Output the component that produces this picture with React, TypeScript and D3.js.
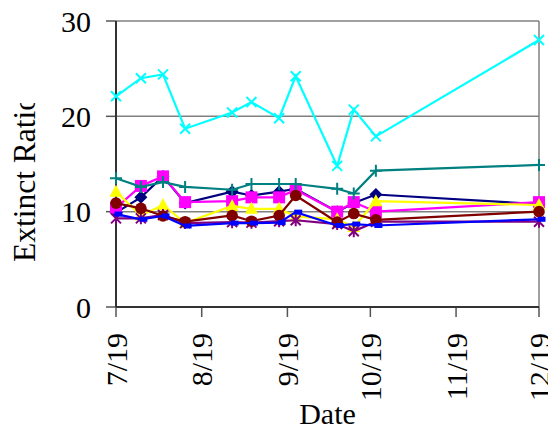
import React from "react";
import * as d3 from "d3";

const dates = ["2002-07-19","2002-07-28","2002-08-05","2002-08-13","2002-08-30","2002-09-06","2002-09-16","2002-09-22","2002-10-07","2002-10-13","2002-10-21","2002-12-19"];
const navyVals = [9.9, 11.5, 13.7, 10.9, 12.1, 11.7, 12.1, 12.4, 10.0, 10.9, 11.8, 10.8];
const magentaVals = [10.4, 12.7, 13.7, 11.0, 11.1, 11.5, 11.5, 12.3, 10.0, 11.0, 10.0, 11.0];
const yellowVals = [12.1, 9.6, 10.7, 8.8, 10.6, 10.3, 10.3, 9.5, 9.2, 8.4, 11.1, 10.7];
const cyanVals = [22.1, 24.0, 24.4, 18.7, 20.4, 21.5, 19.8, 24.2, 14.8, 20.7, 17.9, 28.0];
const purpleVals = [9.3, 9.3, 9.65, 8.8, 8.9, 8.85, 9.0, 9.1, 8.7, 7.95, 8.95, 8.95];
const maroonVals = [10.9, 10.35, 9.55, 8.95, 9.6, 9.0, 9.6, 11.7, 8.9, 9.8, 9.15, 10.0];
const tealVals = [13.5, 12.6, 13.1, 12.6, 12.3, 12.9, 12.9, 12.9, 12.4, 11.9, 14.3, 14.9];
const blueVals = [9.75, 9.2, 9.55, 8.5, 8.8, 8.8, 8.85, 9.95, 8.55, 8.7, 8.55, 9.2];

const yTicks = [0, 10, 20, 30];
const xTickDates = ["2002-07-19","2002-08-19","2002-09-19","2002-10-19","2002-11-19","2002-12-19"];
const xTickLabels = ["7/19", "8/19", "9/19", "10/19", "11/19", "12/19"];

type Series = { name: string; color: string; marker: string; values: number[] };
const series: Series[] = [
  { name: "s1", color: "#000080", marker: "diamond", values: navyVals },
  { name: "s2", color: "#FF00FF", marker: "square", values: magentaVals },
  { name: "s3", color: "#FFFF00", marker: "triangle", values: yellowVals },
  { name: "s4", color: "#00FFFF", marker: "x", values: cyanVals },
  { name: "s5", color: "#800080", marker: "star", values: purpleVals },
  { name: "s6", color: "#800000", marker: "circle", values: maroonVals },
  { name: "s7", color: "#008080", marker: "plus", values: tealVals },
  { name: "s8", color: "#0000FF", marker: "dash", values: blueVals },
];

const parse = d3.timeParse("%Y-%m-%d");
const textStyle: React.CSSProperties = { fontFamily: '"Liberation Serif", "DejaVu Serif", serif', fontSize: 30 };

function Marker({ type, x, y, color }: { type: string; x: number; y: number; color: string }) {
  switch (type) {
    case "diamond":
      return <path d={`M${x},${y - 6.5}L${x + 6.5},${y}L${x},${y + 6.5}L${x - 6.5},${y}Z`} fill={color} />;
    case "square":
      return <rect x={x - 6} y={y - 6} width={12} height={12} fill={color} />;
    case "triangle":
      return <path d={`M${x},${y - 7}L${x + 6.5},${y + 5}L${x - 6.5},${y + 5}Z`} fill={color} />;
    case "x":
      return <path d={`M${x - 5},${y - 5}L${x + 5},${y + 5}M${x - 5},${y + 5}L${x + 5},${y - 5}`} stroke={color} strokeWidth={2} />;
    case "star":
      return <path d={`M${x - 5},${y - 5}L${x + 5},${y + 5}M${x - 5},${y + 5}L${x + 5},${y - 5}M${x},${y - 6}L${x},${y + 6}`} stroke={color} strokeWidth={2} />;
    case "circle":
      return <circle cx={x} cy={y} r={5.8} fill={color} />;
    case "plus":
      return <path d={`M${x - 6},${y}L${x + 6},${y}M${x},${y - 6}L${x},${y + 6}`} stroke={color} strokeWidth={2} />;
    case "dash":
      return <rect x={x - 1.5} y={y - 2.5} width={8} height={5} fill={color} />;
  }
  return null;
}

export default function App() {
  const W = 548, H = 429;
  const left = 116, right = 539, top = 21, bottom = 307;
  const x = d3.scaleTime().domain([parse("2002-07-19")!, parse("2002-12-19")!]).range([left, right]);
  const y = d3.scaleLinear().domain([0, 30]).range([bottom, top]);
  const xs = dates.map((d) => x(parse(d)!));
  const line = d3.line<number>().x((_, i) => xs[i]).y((v) => y(v));

  return (
    <svg width={W} height={H} style={{ position: "absolute", left: 0, top: 0, background: "#fff" }}>
      <defs>
        <clipPath id="ytclip">
          <rect x={0} y={103} width={60} height={300} />
        </clipPath>
      </defs>
      {yTicks.filter((t) => t > 0 && t < 30).map((t) => (
        <line key={t} x1={left} x2={right} y1={y(t)} y2={y(t)} stroke="#808080" strokeWidth={1.5} />
      ))}
      <line x1={left} x2={right} y1={top} y2={top} stroke="#808080" strokeWidth={1.5} />
      <line x1={right} x2={right} y1={top} y2={bottom} stroke="#808080" strokeWidth={1.5} />
      {yTicks.map((t) => (
        <g key={t}>
          <line x1={left - 10} x2={left} y1={y(t)} y2={y(t)} stroke="#555" strokeWidth={1.5} />
          <text x={91} y={y(t)} dy="0.35em" textAnchor="end" style={textStyle} fill="#000">{t}</text>
        </g>
      ))}
      {xTickDates.map((d, i) => {
        const px = x(parse(d)!);
        return (
          <g key={d}>
            <line x1={px} x2={px} y1={bottom} y2={bottom + 10} stroke="#555" strokeWidth={1.5} />
            <text transform={`translate(${px},333) rotate(-90)`} dy="0.35em" textAnchor="end" style={textStyle} fill="#000">{xTickLabels[i]}</text>
          </g>
        );
      })}
      <line x1={left} x2={left} y1={top} y2={bottom} stroke="#333" strokeWidth={2} />
      <line x1={left} x2={right} y1={bottom} y2={bottom} stroke="#333" strokeWidth={2} />
      {series.map((s) => (
        <g key={s.name}>
          <path d={line(s.values) || ""} fill="none" stroke={s.color} strokeWidth={2.2} />
          {s.values.map((v, i) => (
            <Marker key={i} type={s.marker} x={xs[i]} y={y(v)} color={s.color} />
          ))}
        </g>
      ))}
      <text x={(left + right) / 2} y={424} textAnchor="middle" style={textStyle} fill="#000">Date</text>
      <g clipPath="url(#ytclip)">
        <text transform={`translate(35,262) rotate(-90)`} textAnchor="start" style={{ ...textStyle, fontSize: 31.5 }} fill="#000">Extinct Ratio</text>
      </g>
    </svg>
  );
}
